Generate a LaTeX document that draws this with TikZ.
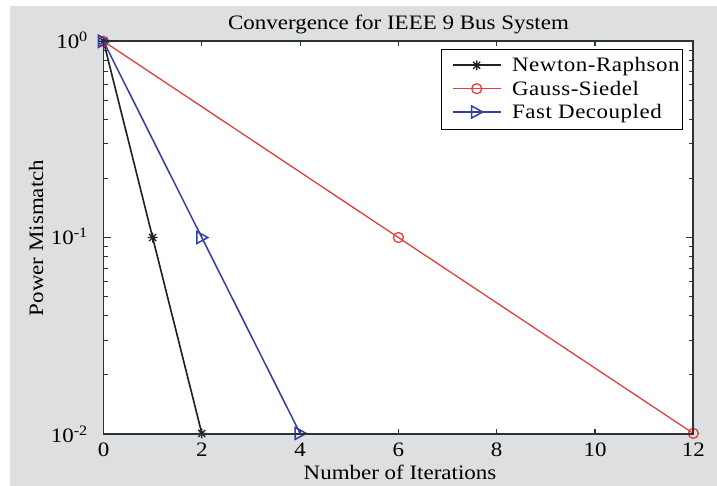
\documentclass[tikz,border=0pt]{standalone}
\usepackage{fontspec}
\setmainfont{Liberation Serif}[FakeStretch=1.12]
\newfontfamily\legendfont{Liberation Serif}[FakeStretch=1.12, LetterSpace=2.5]
\usetikzlibrary{positioning}

\definecolor{panelgray}{RGB}{222,223,225}
\definecolor{axisgray}{RGB}{45,50,55}
\definecolor{nrblack}{RGB}{30,35,40}
\definecolor{gsred}{RGB}{230,60,60}
\definecolor{fdblue}{RGB}{50,65,160}

% data coordinates -> picture coordinates (x: iterations, y: log10 mismatch)
\newcommand{\itx}[1]{103.5+49.15*(#1)}
\newcommand{\mmy}[1]{41.3-196.35*log10(#1)}

\begin{document}
\begin{tikzpicture}[x=0.03cm, y=-0.03cm, font=\fontsize{17.5}{21}\selectfont,
    frame/.style={draw=axisgray, line width=1.6pt},
    tickmark/.style={draw=axisgray, line width=0.9pt},
    nrline/.style={draw=nrblack, line width=1.4pt},
    gsline/.style={draw=gsred, line width=1.1pt},
    fdline/.style={draw=fdblue, line width=1.3pt},
    legendtext/.style={anchor=base west, font=\legendfont\fontsize{17.5}{21}\selectfont},
    pics/starmark/.style={code={\draw[nrblack, line width=1.1pt] (-5,0) -- (5,0) (0,-5) -- (0,5) (-3.5,-3.5) -- (3.5,3.5) (-3.5,3.5) -- (3.5,-3.5);}},
    pics/ringmark/.style={code={\draw[gsred, line width=1.1pt] (0,0) circle[radius=0.15cm];}},
    pics/tipmark/.style={code={\draw[fdblue, line width=1.3pt] (-5,-6) -- (6,0) -- (-5,6) -- cycle;}}]
    \useasboundingbox (0,0) rectangle (717,486);
    \fill[panelgray] (10,6) rectangle (717,486);
    \fill[white] (103.5,41.3) rectangle (693.3,434);

    % ticks on all four sides
    \foreach \i in {0,2,...,12} {
        \draw[tickmark] ({\itx{\i}},434) -- ++(0,-5);
        \draw[tickmark] ({\itx{\i}},41.3) -- ++(0,5);
        \node[anchor=base] (xt\i) at ({\itx{\i}},456.5) {\i};
    }
    \foreach \k in {1,2} {
        \foreach \m in {2,...,9} {
            \pgfmathsetmacro\yy{41.3+196.35*(\k-log10(\m))}
            \draw[tickmark] (103.5,\yy) -- ++(4,0);
            \draw[tickmark] (693.3,\yy) -- ++(-4,0);
        }
    }
    \foreach \e/\v in {0/1,1/0.1,2/0.01} {
        \draw[tickmark] (103.5,{\mmy{\v}}) -- ++(7,0);
        \draw[tickmark] (693.3,{\mmy{\v}}) -- ++(-7,0);
    }
    \node[anchor=base east] (yt0) at (92,48.5) {10\textsuperscript{0}};
    \node[anchor=base east] (yt1) at (92,245) {10\textsuperscript{-1}};
    \node[anchor=base east] (yt2) at (92,442.5) {10\textsuperscript{-2}};

    % convergence curves
    \draw[nrline] ({\itx{0}},{\mmy{1}}) -- ({\itx{1}},{\mmy{0.1}}) -- ({\itx{2}},{\mmy{0.01}});
    \foreach \i/\v in {0/1,1/0.1,2/0.01}
        \pic at ({\itx{\i}},{\mmy{\v}}) {starmark};
    \draw[gsline] ({\itx{0}},{\mmy{1}}) -- ({\itx{6}},{\mmy{0.1}}) -- ({\itx{12}},{\mmy{0.01}});
    \foreach \i/\v in {0/1,6/0.1,12/0.01}
        \pic at ({\itx{\i}},{\mmy{\v}}) {ringmark};
    \draw[fdline] ({\itx{0}},{\mmy{1}}) -- ({\itx{2}},{\mmy{0.1}}) -- ({\itx{4}},{\mmy{0.01}});
    \foreach \i/\v in {0/1,2/0.1,4/0.01}
        \pic at ({\itx{\i}},{\mmy{\v}}) {tipmark};

    \draw[frame] (103.5,41.3) rectangle (693.3,434);

    % labels
    \node[anchor=base] (title) at (398.5,29.3) {Convergence for IEEE 9 Bus System};
    \node[anchor=base] (xlabel) at (400,479.3) {Number of Iterations};
    \node[anchor=base, rotate=90] (ylabel) at (43,238) {Power Mismatch};

    % legend
    \draw[fill=white, draw=black, line width=0.8pt] (441.7,49.3) rectangle (682.7,129.3);
    \draw[nrline] (452.7,65.3) -- (500.7,65.3);
    \pic at (476.7,65.3) {starmark};
    \node[legendtext] (lgnr) at (508,71.7) {Newton-Raphson};
    \draw[gsline] (452.7,88.7) -- (500.7,88.7);
    \pic at (476.7,88.7) {ringmark};
    \node[legendtext] (lggs) at (508,95.1) {Gauss-Siedel};
    \draw[fdline] (452.7,112) -- (500.7,112);
    \pic at (476.7,112) {tipmark};
    \node[legendtext] (lgfd) at (508,118.4) {Fast Decoupled};
\end{tikzpicture}
\end{document}
